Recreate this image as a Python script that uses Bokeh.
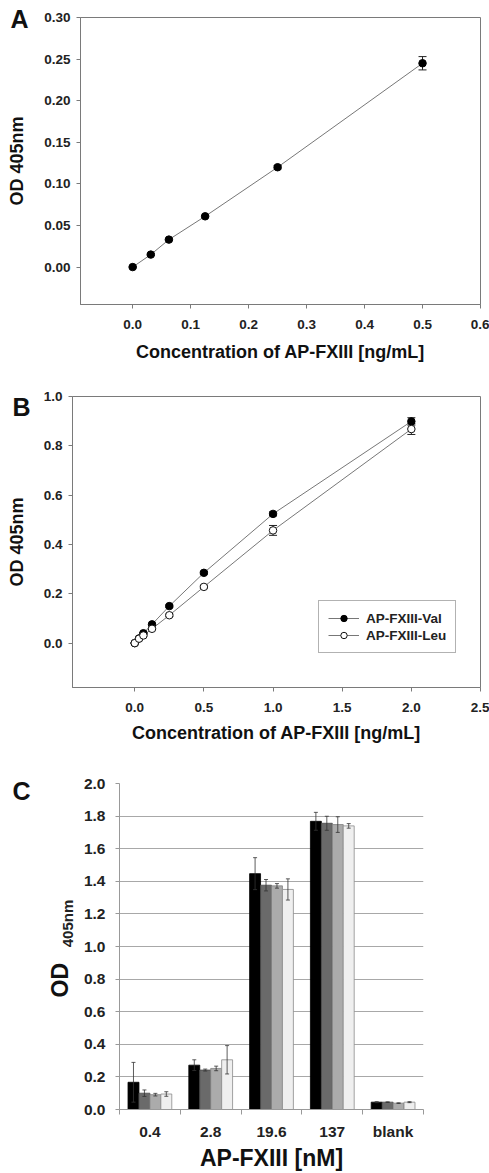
from bokeh.plotting import figure
from bokeh.models import (ColumnDataSource, Whisker, TeeHead, FixedTicker, PrintfTickFormatter,
                          Label, Range1d, Legend, LegendItem, Title)
from bokeh.layouts import column
from bokeh.embed import file_html
from bokeh.resources import INLINE

FONT = "Liberation Sans"

# ---------------- data ----------------
# Panel A
A_conc = [0.0, 0.03125, 0.0625, 0.125, 0.25, 0.5]
A_od = [0.000, 0.015, 0.033, 0.061, 0.120, 0.245]
A_err = [0.001, 0.001, 0.001, 0.001, 0.002, 0.008]
A_xticks = [0.0, 0.1, 0.2, 0.3, 0.4, 0.5, 0.6]
A_yticks = [0.00, 0.05, 0.10, 0.15, 0.20, 0.25, 0.30]

# Panel B
B_conc = [0.0, 0.03125, 0.0625, 0.125, 0.25, 0.5, 1.0, 2.0]
B_val = [0.000, 0.019, 0.040, 0.076, 0.150, 0.285, 0.524, 0.899]
B_val_err = [0.002, 0.002, 0.003, 0.004, 0.005, 0.005, 0.008, 0.015]
B_leu = [0.000, 0.018, 0.031, 0.058, 0.113, 0.228, 0.457, 0.868]
B_leu_err = [0.002, 0.002, 0.003, 0.004, 0.005, 0.006, 0.020, 0.022]
B_xticks = [0.0, 0.5, 1.0, 1.5, 2.0, 2.5]
B_yticks = [0.0, 0.2, 0.4, 0.6, 0.8, 1.0]

# Panel C
C_cats = ["0.4", "2.8", "19.6", "137", "blank"]
C_s1 = [0.167, 0.272, 1.447, 1.768, 0.045]
C_e1 = [0.122, 0.033, 0.098, 0.055, 0.003]
C_s2 = [0.100, 0.242, 1.376, 1.756, 0.045]
C_e2 = [0.020, 0.006, 0.035, 0.043, 0.002]
C_s3 = [0.091, 0.252, 1.372, 1.748, 0.039]
C_e3 = [0.008, 0.014, 0.014, 0.048, 0.002]
C_s4 = [0.095, 0.305, 1.350, 1.740, 0.045]
C_e4 = [0.014, 0.087, 0.065, 0.014, 0.003]
C_yticks = [0.0, 0.2, 0.4, 0.6, 0.8, 1.0, 1.2, 1.4, 1.6, 1.8, 2.0]

AXC = "#7a7a7a"


def style_xy(p, xt, yt, xfmt, yfmt):
    p.grid.visible = False
    p.outline_line_color = AXC
    p.outline_line_width = 1
    p.xaxis.ticker = FixedTicker(ticks=xt)
    p.yaxis.ticker = FixedTicker(ticks=yt)
    p.xaxis.formatter = PrintfTickFormatter(format=xfmt)
    p.yaxis.formatter = PrintfTickFormatter(format=yfmt)
    for ax in (p.xaxis, p.yaxis):
        ax.axis_line_color = AXC
        ax.major_tick_line_color = AXC
        ax.major_tick_in = 0
        ax.major_tick_out = 4
        ax.minor_tick_line_color = None
        ax.major_label_text_font = FONT
        ax.major_label_text_font_style = "bold"
        ax.major_label_text_font_size = "13.5px"
        ax.major_label_text_color = "#222222"
        ax.axis_label_text_font = FONT
        ax.axis_label_text_font_style = "bold"
        ax.axis_label_text_font_size = "18px"
        ax.axis_label_text_color = "#111111"
    p.xaxis.major_label_standoff = 11
    p.yaxis.major_label_standoff = 6
    p.xaxis.axis_label_standoff = 10
    p.yaxis.axis_label_standoff = 14


def canvas_label(txt, x, y, size, angle=0.0, color="#111111"):
    return Label(x=x, y=y, x_units="canvas", y_units="canvas", text=txt, angle=angle,
                 text_font=FONT, text_font_style="bold", text_font_size=size,
                 text_align="center", text_baseline="middle", text_color=color)


# ---------------- Panel A ----------------
pA = figure(width=489, height=364, x_range=Range1d(-0.09, 0.6), y_range=Range1d(-0.045, 0.30),
            output_backend="svg", toolbar_location=None, frame_align=False,
            min_border_left=80, min_border_right=9, min_border_top=17, min_border_bottom=60)
style_xy(pA, A_xticks, A_yticks, "%.1f", "%.2f")
pA.xaxis.axis_label = "Concentration of AP-FXIII [ng/mL]"
pA.yaxis.axis_label = "OD 405nm"
srcA = ColumnDataSource(dict(x=A_conc, y=A_od,
                             lo=[v - e for v, e in zip(A_od, A_err)],
                             hi=[v + e for v, e in zip(A_od, A_err)]))
pA.line("x", "y", source=srcA, line_color="#777777", line_width=1)
pA.add_layout(Whisker(source=srcA, base="x", lower="lo", upper="hi", line_color="#222222",
                      upper_head=TeeHead(size=8, line_color="#222222"),
                      lower_head=TeeHead(size=8, line_color="#222222")))
pA.scatter("x", "y", source=srcA, size=7.5, fill_color="black", line_color="black")
try:
    tA = Title(text="A", align="left", offset=-70, standoff=-31, vertical_align="bottom",
               text_font=FONT, text_font_style="bold", text_font_size="25px", text_color="#111111")
except Exception:
    tA = Title(text="A", align="left", offset=-70, standoff=0, vertical_align="bottom",
               text_font=FONT, text_font_style="bold", text_font_size="25px", text_color="#111111")
pA.add_layout(tA, "above")

# ---------------- Panel B ----------------
pB = figure(width=489, height=381, x_range=Range1d(-0.45, 2.5), y_range=Range1d(-0.18, 1.0),
            output_backend="svg", toolbar_location=None, frame_align=False,
            min_border_left=72, min_border_right=9, min_border_top=32, min_border_bottom=56)
style_xy(pB, B_xticks, B_yticks, "%.1f", "%.1f")
pB.xaxis.axis_label = "Concentration of AP-FXIII [ng/mL]"
pB.yaxis.axis_label = "OD 405nm"
pB.xaxis.axis_label_standoff = 8
srcV = ColumnDataSource(dict(x=B_conc, y=B_val,
                             lo=[v - e for v, e in zip(B_val, B_val_err)],
                             hi=[v + e for v, e in zip(B_val, B_val_err)]))
srcL = ColumnDataSource(dict(x=B_conc, y=B_leu,
                             lo=[v - e for v, e in zip(B_leu, B_leu_err)],
                             hi=[v + e for v, e in zip(B_leu, B_leu_err)]))
lV = pB.line("x", "y", source=srcV, line_color="#777777", line_width=1)
lL = pB.line("x", "y", source=srcL, line_color="#777777", line_width=1)
for s in (srcV, srcL):
    pB.add_layout(Whisker(source=s, base="x", lower="lo", upper="hi", line_color="#222222",
                          upper_head=TeeHead(size=8, line_color="#222222"),
                          lower_head=TeeHead(size=8, line_color="#222222")))
mV = pB.scatter("x", "y", source=srcV, size=7.5, fill_color="black", line_color="black")
mL = pB.scatter("x", "y", source=srcL, size=7.5, fill_color="white", line_color="#111111")
legB = Legend(items=[LegendItem(label="AP-FXIII-Val", renderers=[lV, mV]),
                     LegendItem(label="AP-FXIII-Leu", renderers=[lL, mL])],
              location=(246, 34), border_line_color="#666666", border_line_width=1,
              label_text_font=FONT, label_text_font_style="bold", label_text_font_size="13.5px",
              label_text_color="#222222", glyph_width=31, glyph_height=16, label_height=16,
              label_standoff=7, padding=9, spacing=1, margin=0)
pB.add_layout(legB)
pB.add_layout(canvas_label("B", 21, 42, "25px"), "above")

# ---------------- Panel C ----------------
pC = figure(width=489, height=428, x_range=Range1d(-0.5, 4.5), y_range=Range1d(0, 2.0),
            output_backend="svg", toolbar_location=None, frame_align=False,
            min_border_left=119, min_border_right=66, min_border_top=38, min_border_bottom=63)
pC.outline_line_color = None
pC.xgrid.visible = False
pC.ygrid.ticker = FixedTicker(ticks=C_yticks)
pC.ygrid.grid_line_color = "#a8a8a8"
pC.ygrid.grid_line_width = 1
pC.yaxis.ticker = FixedTicker(ticks=C_yticks)
pC.yaxis.formatter = PrintfTickFormatter(format="%.1f")
pC.xaxis.ticker = FixedTicker(ticks=list(range(len(C_cats))),
                              minor_ticks=[i - 0.5 for i in range(len(C_cats) + 1)])
pC.xaxis.major_label_overrides = {i: c for i, c in enumerate(C_cats)}
for ax in (pC.xaxis, pC.yaxis):
    ax.axis_line_color = "#999999"
    ax.major_label_text_font = FONT
    ax.major_label_text_font_style = "bold"
    ax.major_label_text_font_size = "15.5px"
    ax.major_label_text_color = "#222222"
pC.yaxis.major_tick_line_color = "#999999"
pC.yaxis.major_tick_in = 0
pC.yaxis.major_tick_out = 4
pC.yaxis.minor_tick_line_color = None
pC.yaxis.major_label_standoff = 10
pC.xaxis.major_tick_line_color = None
pC.xaxis.major_tick_in = 0
pC.xaxis.major_tick_out = 0
pC.xaxis.minor_tick_line_color = "#999999"
pC.xaxis.minor_tick_in = 0
pC.xaxis.minor_tick_out = 5
pC.xaxis.major_label_standoff = 8
pC.xaxis.axis_label = "AP-FXIII [nM]"
pC.xaxis.axis_label_text_font = FONT
pC.xaxis.axis_label_text_font_style = "bold"
pC.xaxis.axis_label_text_font_size = "23px"
pC.xaxis.axis_label_text_color = "#111111"
pC.xaxis.axis_label_standoff = 2

series = [(C_s1, C_e1, "#000000", "#000000"),
          (C_s2, C_e2, "#6a6a6a", "#4a4a4a"),
          (C_s3, C_e3, "#ababab", "#808080"),
          (C_s4, C_e4, "#efefef", "#8a8a8a")]
offsets = [-0.27, -0.09, 0.09, 0.27]
for (vals, errs, fc, lc), off in zip(series, offsets):
    xs = [i + off for i in range(len(C_cats))]
    src = ColumnDataSource(dict(x=xs, top=vals,
                                lo=[v - e for v, e in zip(vals, errs)],
                                hi=[v + e for v, e in zip(vals, errs)]))
    pC.vbar(x="x", top="top", width=0.18, source=src, fill_color=fc, line_color=lc, line_width=0.8)
    pC.add_layout(Whisker(source=src, base="x", lower="lo", upper="hi", level="overlay",
                          line_color="#333333", line_width=0.8,
                          upper_head=TeeHead(size=4, line_color="#333333", line_width=0.8),
                          lower_head=TeeHead(size=4, line_color="#333333", line_width=0.8)))

tOD = Title(text="OD", align="left", offset=112, standoff=16, vertical_align="bottom",
            text_font=FONT, text_font_style="bold", text_font_size="23px", text_color="#111111")
pC.add_layout(tOD, "left")
pC.add_layout(canvas_label("405nm", 67, 178, "15px", angle=1.5708, color="#222222"), "right")
pC.add_layout(canvas_label("C", 21, 45, "25px"), "above")

layout = column(pA, pB, pC, spacing=0)
open("out.html", "w").write(file_html(layout, INLINE))
